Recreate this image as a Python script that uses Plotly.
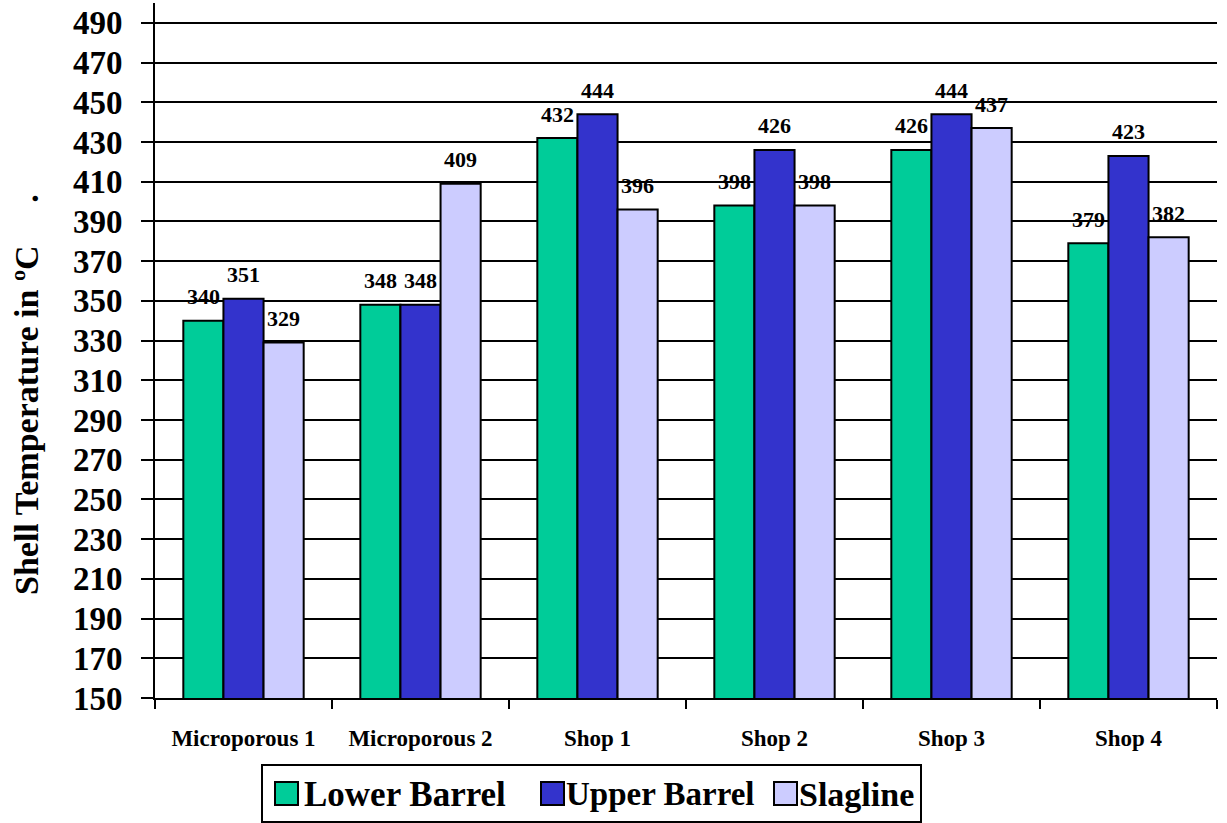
import plotly.graph_objects as go

categories = ["Microporous 1", "Microporous 2", "Shop 1", "Shop 2", "Shop 3", "Shop 4"]
lower_barrel = [340, 348, 432, 398, 426, 379]
upper_barrel = [351, 348, 444, 426, 444, 423]
slagline = [329, 409, 396, 398, 437, 382]
y_ticks = list(range(150, 491, 20))

FONT = "Liberation Serif"
BARGAP = 0.32
LABEL_LIFT = 24  # px between bar top and its value label centre

series = [
    ("Lower Barrel", lower_barrel, "#00CC99"),
    ("Upper Barrel", upper_barrel, "#3333CC"),
    ("Slagline", slagline, "#CCCCFF"),
]

# plot area in pixels
L, R, T, B = 155, 10, 3, 125
W, H = 1227, 823
PW, PH = W - L - R, H - T - B


def px_x(px):
    return (px - L) / PW


def px_y(py):
    return (H - B - py) / PH


fig = go.Figure()
bar_w = (1 - BARGAP) / len(series)
annotations = []
for k, (name, vals, color) in enumerate(series):
    fig.add_trace(go.Bar(
        name=name, x=categories, y=vals,
        marker=dict(color=color, line=dict(color="black", width=2)),
        showlegend=False,
    ))
    for i, v in enumerate(vals):
        annotations.append(dict(
            x=i + (k - 1) * bar_w, y=v, xref="x", yref="y",
            text=f"<b>{v}</b>", showarrow=False, yshift=LABEL_LIFT,
            font=dict(family=FONT, size=22, color="black"),
        ))

# y-axis title
annotations.append(dict(
    x=px_x(26), y=px_y(395), xref="paper", yref="paper",
    xanchor="center", yanchor="middle",
    text="<b>Shell Temperature in ºC     .</b>", textangle=-90, showarrow=False,
    font=dict(family=FONT, size=34, color="black"),
))

# legend box, swatches and labels
shapes = [dict(type="rect", xref="paper", yref="paper",
               x0=px_x(262), x1=px_x(921), y0=px_y(822), y1=px_y(765),
               line=dict(color="black", width=2), fillcolor="white", layer="above")]
legend_items = [(275, 306, 35), (541, 568, 33), (774, 801, 34)]
for (sx, tx, fs), (name, _, color) in zip(legend_items, series):
    shapes.append(dict(type="rect", xref="paper", yref="paper",
                       x0=px_x(sx), x1=px_x(sx + 23), y0=px_y(805), y1=px_y(782),
                       line=dict(color="black", width=2), fillcolor=color, layer="above"))
    annotations.append(dict(
        x=px_x(tx - 4), y=px_y(794), xref="paper", yref="paper",
        xanchor="left", yanchor="middle", text=f"<b>{name}</b>", showarrow=False,
        font=dict(family=FONT, size=fs, color="black"),
    ))

fig.update_layout(
    width=W, height=H,
    margin=dict(l=L, r=R, t=T, b=B),
    paper_bgcolor="white", plot_bgcolor="white",
    barmode="group", bargap=BARGAP, bargroupgap=0,
    showlegend=False,
    annotations=annotations, shapes=shapes,
)

fig.update_xaxes(
    showline=True, linecolor="black", linewidth=2,
    ticks="outside", tickson="boundaries", ticklen=9, tickwidth=2, tickcolor="black",
    tickfont=dict(family=FONT, size=23, color="black"),
    tickprefix="<b>", ticksuffix="</b>", ticklabelstandoff=18,
    showgrid=False,
)
fig.update_yaxes(
    range=[150, 500], tickvals=y_ticks,
    ticktext=[f"<b>{v}</b>" for v in y_ticks],
    showline=True, linecolor="black", linewidth=2,
    ticks="outside", ticklen=12, tickwidth=2, tickcolor="black",
    tickfont=dict(family=FONT, size=33, color="black"), ticklabelstandoff=12,
    showgrid=True, gridcolor="black", gridwidth=2,
    zeroline=False,
)

fig.write_html("out.html")
